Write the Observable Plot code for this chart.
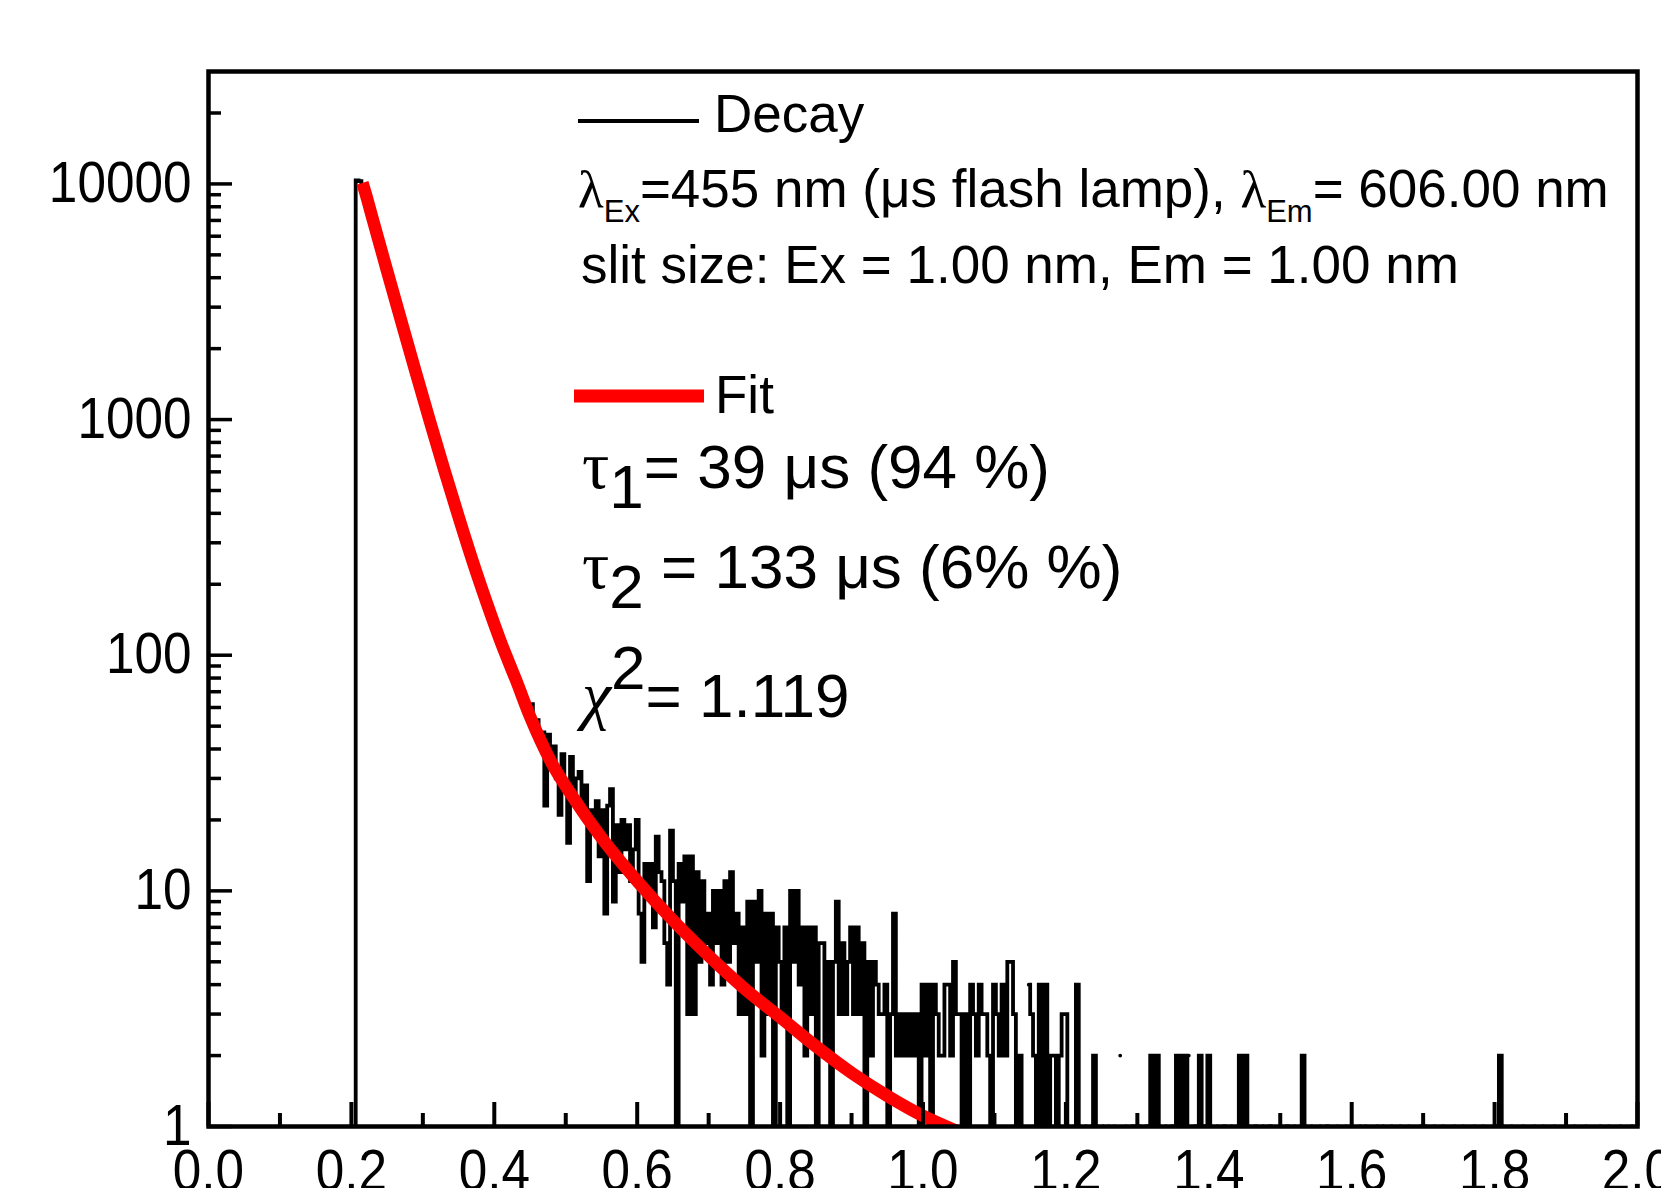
<!DOCTYPE html>
<html>
<head>
<meta charset="utf-8">
<script src="https://cdn.jsdelivr.net/npm/d3@7"></script>
<script src="https://cdn.jsdelivr.net/npm/@observablehq/plot@0.6"></script>
<style>
  html, body { margin: 0; padding: 0; background: #fff; overflow: hidden; }
  #chart svg { display: block; }
</style>
</head>
<body>
<div id="chart"></div>
<script>
// ---- Decay histogram: channel grid (ms) and photon counts ----
const channelStart = 0.204;   // ms, first channel shown
const channelWidth = 0.004;   // ms per channel
const decayCounts = [
  1, 10350, 10280, 9850, 9150, 8290, 7480, 6790, 6110, 5560,
  5010, 4540, 4120, 3700, 3390, 3040, 2770, 2520, 2260, 2080,
  1870, 1700, 1540, 1410, 1270, 1160, 1050, 960, 872, 790,
  735, 655, 601, 560, 495, 458, 412, 385, 349, 318,
  296, 266, 251, 226, 211, 190, 182, 162, 155, 139,
  133, 118, 114, 104, 97, 92, 84, 80, 72, 70,
  62, 58, 62, 47, 53, 44, 47, 23, 46, 34,
  41, 30, 21, 38, 29, 16, 37, 26, 30, 32,
  22, 28, 11, 22, 18, 24, 14, 22, 8, 23,
  27, 9, 19, 12, 20, 15, 19, 11, 15, 20,
  8, 5, 13, 10, 13, 7, 17, 12, 11, 6,
  4, 18, 11, 1, 13, 9, 14, 3, 14, 3,
  12, 5, 11, 6, 8, 4, 10, 6, 10, 4,
  11, 5, 12, 6, 8, 3, 7, 3, 9, 1,
  9, 5, 10, 2, 8, 3, 8, 1, 7, 5,
  3, 7, 1, 10, 5, 10, 4, 7, 2, 7,
  3, 7, 1, 6, 6, 2, 5, 1, 5, 9,
  3, 6, 3, 5, 7, 3, 7, 3, 6, 1,
  5, 2, 5, 4, 3, 3, 4, 1, 3, 8,
  2, 3, 2, 3, 2, 3, 2, 3, 1, 4,
  2, 4, 1, 4, 3, 2, 2, 4, 4, 2,
  5, 3, 3, 1, 3, 1, 4, 3, 2, 4,
  3, 3, 2, 1, 4, 3, 2, 4, 2, 5,
  5, 3, 1, 2, 1, 0, 4, 3, 2, 1,
  4, 1, 4, 1, 2, 2, 1, 2, 3, 3,
  1, 0, 1, 4, 1, 0, 1, 0, 1, 2,
  1, 0, 1, 0, 1, 0, 1, 0, 2, 0,
  1, 0, 1, 1, 0, 1, 0, 1, 1, 2,
  1, 2, 1, 0, 1, 0, 1, 1, 2, 1,
  2, 1, 2, 0, 1, 1, 2, 1, 1, 2,
  1, 0, 1, 0, 1, 1, 0, 1, 0, 1,
  2, 1, 2, 1, 0, 1, 1, 0, 1, 0,
  1, 1, 0, 0, 1, 0, 1, 1, 0, 1,
  0, 1, 2, 1, 0, 1, 0, 0, 1, 0,
  1, 1, 0, 0, 1, 0, 0, 1, 0, 1,
  0, 0, 1, 0, 1, 0, 0, 0, 1, 0,
  1, 0, 0, 1, 0, 0, 1, 0, 0, 1,
  0, 0, 0, 1, 0, 1, 0, 0, 1, 0,
  0, 1, 0, 0, 0, 1, 0, 0, 1, 0,
  0, 0, 1, 0, 0, 1, 0, 0, 0, 1,
  1, 2, 1, 0, 0, 1, 0, 0, 0, 1,
  0, 0, 0, 1, 0, 0, 1, 0, 0, 0,
  1, 0, 0, 0, 1, 0, 0, 1, 0, 0,
  0, 1, 0, 0, 0, 0, 1, 0, 0, 1,
  0, 0, 0, 1, 0, 0, 0, 1, 0, 0
];

// ---- Fit curve ----
const fitTime  = [0.2155, 0.22, 0.23, 0.25, 0.27, 0.29, 0.31, 0.33, 0.35, 0.37, 0.39, 0.41, 0.43, 0.45, 0.48, 0.51, 0.55, 0.60, 0.65, 0.70, 0.75, 0.80, 0.85, 0.90, 0.95, 1.00, 1.05, 1.08];
const fitValue = [10100, 9090, 7060, 4270, 2600, 1590, 980, 611, 387, 249, 165, 112, 79, 55, 35, 25, 16.8, 11.0, 7.5, 5.3, 3.85, 2.91, 2.19, 1.69, 1.35, 1.11, 0.95, 0.87];

// ---- Axes ----
const xMajorTicks = [0, 0.2, 0.4, 0.6, 0.8, 1.0, 1.2, 1.4, 1.6, 1.8, 2.0];
const xMinorTicks = [0.1, 0.3, 0.5, 0.7, 0.9, 1.1, 1.3, 1.5, 1.7, 1.9];
const yMajorTicks = [1, 10, 100, 1000, 10000];
const yMinorTicks = [2, 3, 4, 5, 6, 7, 8, 9, 20, 30, 40, 50, 60, 70, 80, 90,
  200, 300, 400, 500, 600, 700, 800, 900, 2000, 3000, 4000, 5000, 6000, 7000, 8000, 9000, 20000];
const xDomain = [0, 2.0];
const yDomain = [1, 30000];

// ---- Legend / annotation texts ----
const legendDecay = "Decay";
const legendFit = "Fit";
const slitText = "slit size: Ex = 1.00 nm, Em = 1.00 nm";

const decay = decayCounts.map((c, i) => ({t: channelStart + i * channelWidth, c}));
const fit = fitTime.map((t, i) => ({t, v: fitValue[i]}));

const W = 1661, H = 1188;
const mL = 208, mR = 24, mT = 71, mB = 62;
const FW = W - mL - mR, FH = H - mT - mB;

const chart = Plot.plot({
  width: W, height: H,
  marginLeft: mL, marginRight: mR, marginTop: mT, marginBottom: mB,
  style: {fontFamily: "'Liberation Sans', Arial, sans-serif", background: "white", overflow: "visible", color: "black"},
  x: {domain: xDomain},
  y: {type: "log", domain: yDomain},
  marks: [
    Plot.line(decay, {x: "t", y: d => d.c > 0 ? d.c : NaN, curve: "step", stroke: "black", strokeWidth: 3.8, strokeLinejoin: "miter", strokeMiterlimit: 2, clip: true}),
    Plot.line(fit, {x: "t", y: "v", stroke: "#ff0000", strokeWidth: 12.5, strokeLinecap: "butt", curve: "monotone-x", clip: true}),
    Plot.tickX(xMinorTicks, {x: d => d, insetTop: FH - 13, stroke: "black", strokeWidth: 4}),
    Plot.tickX(xMajorTicks, {x: d => d, insetTop: FH - 24, stroke: "black", strokeWidth: 4}),
    Plot.tickY(yMinorTicks, {y: d => d, insetRight: FW - 13, stroke: "black", strokeWidth: 3.5}),
    Plot.tickY(yMajorTicks, {y: d => d, insetRight: FW - 24, stroke: "black", strokeWidth: 3.5}),
    Plot.axisX(xMajorTicks, {tickSize: 0, tickPadding: 23, tickFormat: d3.format(".1f"), fontSize: 57, label: null, fill: "black", stroke: "black", strokeWidth: 0.7}),
    Plot.axisY(yMajorTicks, {tickSize: 0, tickPadding: 17, tickFormat: d => String(d), fontSize: 57, label: null, fill: "black", stroke: "black", strokeWidth: 0.7}),
    Plot.frame({stroke: "black", strokeWidth: 4.5})
  ]
});
document.getElementById("chart").appendChild(chart);

const svg = d3.select(chart);

// condensed tick-label glyphs (as in the reference)
svg.selectAll('[aria-label="x-axis tick label"] text, [aria-label="y-axis tick label"] text').each(function () {
  const tr = this.getAttribute("transform");
  if (tr) {
    this.setAttribute("transform", tr + " scale(0.9,1)");
  } else {
    const x = +this.getAttribute("x") || 0, y = +this.getAttribute("y") || 0;
    this.setAttribute("x", 0); this.setAttribute("y", 0);
    this.setAttribute("transform", `translate(${x},${y}) scale(0.9,1)`);
  }
});

// ---- Legend block (pixel layout) ----
const g = svg.append("g")
  .attr("font-family", "'Liberation Sans', Arial, sans-serif")
  .attr("fill", "black")
  .attr("text-anchor", "start")
  .style("text-anchor", "start")
  .style("white-space", "pre");
const serif = "'Liberation Serif', 'Times New Roman', serif";

g.append("line").attr("x1", 578).attr("x2", 699).attr("y1", 121).attr("y2", 121)
  .attr("stroke", "black").attr("stroke-width", 4);
g.append("text").attr("x", 714).attr("y", 132).attr("font-size", 53).text(legendDecay);

const l2 = g.append("text").attr("x", 578).attr("y", 207).attr("font-size", 53);
l2.append("tspan").attr("font-family", serif).text("λ");
l2.append("tspan").attr("font-size", 31).attr("dy", 15).text("Ex");
l2.append("tspan").attr("dy", -15).text("=455 nm (μs flash lamp), ");
l2.append("tspan").attr("font-family", serif).text("λ");
l2.append("tspan").attr("font-size", 31).attr("dy", 15).text("Em");
l2.append("tspan").attr("dy", -15).text("= 606.00 nm");

g.append("text").attr("x", 581).attr("y", 283).attr("font-size", 53).text(slitText);

g.append("line").attr("x1", 574).attr("x2", 704).attr("y1", 396).attr("y2", 396)
  .attr("stroke", "#ff0000").attr("stroke-width", 13);
g.append("text").attr("x", 715).attr("y", 413).attr("font-size", 53).text(legendFit);

const t1 = g.append("text").attr("x", 582).attr("y", 488).attr("font-size", 62);
t1.append("tspan").attr("font-family", serif).attr("font-size", 68).text("τ");
t1.append("tspan").attr("dy", 20).text("1");
t1.append("tspan").attr("dy", -20).text("= 39 μs (94 %)");

const t2 = g.append("text").attr("x", 582).attr("y", 588).attr("font-size", 62);
t2.append("tspan").attr("font-family", serif).attr("font-size", 68).text("τ");
t2.append("tspan").attr("dy", 20).text("2");
t2.append("tspan").attr("dy", -20).text(" = 133 μs (6% %)");

const c2 = g.append("text").attr("x", 582).attr("y", 717).attr("font-size", 62);
c2.append("tspan").attr("font-family", serif).attr("font-style", "italic").attr("font-size", 66).text("χ");
c2.append("tspan").attr("dy", -28).text("2");
c2.append("tspan").attr("dy", 28).text("= 1.119");
</script>
</body>
</html>
